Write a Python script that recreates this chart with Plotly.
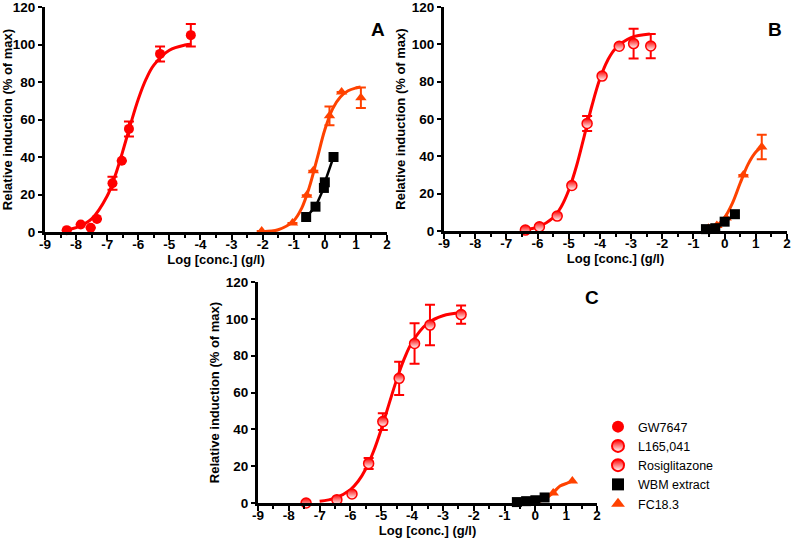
import plotly.graph_objects as go

# ---------------- data ----------------
# Panel A
gw_x = [-8.30, -7.85, -7.53, -7.33, -6.83, -6.53, -6.30, -5.30, -4.31]
gw_y = [1.0, 4.0, 2.3, 7.0, 26.0, 38.0, 55.0, 95.0, 105.0]
gw_err = [0, 0, 0, 0, 3.5, 0, 4, 4, 6]
gw_fit_x = [-8.3, -8.0, -7.5, -7.0, -6.75, -6.5, -6.25, -6.0, -5.75, -5.5, -5.0, -4.5, -4.3]
gw_fit_y = [1.2, 2.3, 7.0, 19.2, 29.7, 43.0, 57.4, 70.8, 81.5, 89.0, 96.9, 99.7, 100.1]

fcA_x = [-2.03, -1.04, -0.58, -0.37, 0.15, 0.54, 1.16]
fcA_y = [0.5, 4.8, 19.6, 32.7, 62.0, 74.7, 71.6]
fcA_err = [0, 0, 0, 0, 5, 0, 5.5]
fcA_fit_x = [-2.0, -1.5, -1.0, -0.75, -0.5, -0.25, 0.0, 0.25, 0.5, 0.75, 1.0, 1.15]
fcA_fit_y = [0.2, 1.2, 6.0, 12.5, 23.8, 39.0, 54.5, 65.7, 72.0, 75.3, 76.8, 77.3]

wbmA_x = [-0.60, -0.30, -0.03, 0.00, 0.28]
wbmA_y = [8.0, 13.5, 23.5, 26.5, 40.0]

# Panel B
l165_x = [-6.39, -5.94, -5.37, -4.90, -4.41, -3.93, -3.38, -2.92, -2.37]
l165_y = [0.5, 2.3, 8.0, 24.4, 57.6, 83.0, 99.0, 100.4, 99.1]
l165_err = [0, 0, 0, 0, 4, 0, 0, 8, 6.5]
l165_fit_x = [-6.4, -6.0, -5.5, -5.25, -5.0, -4.75, -4.5, -4.25, -4.0, -3.75, -3.5, -3.0, -2.4]
l165_fit_y = [0.8, 2.1, 7.1, 12.7, 21.8, 34.8, 51.0, 67.5, 81.5, 91.5, 97.8, 103.6, 105.5]

fcB_x = [-0.52, -0.25, 0.05, 0.60, 1.19]
fcB_y = [1.5, 3.0, 7.0, 30.0, 45.0]
fcB_err = [0, 0, 0, 0, 6.5]
fcB_fit_x = [-0.6, -0.25, 0.0, 0.25, 0.5, 0.75, 1.0, 1.19]
fcB_fit_y = [0.9, 3.1, 7.2, 14.9, 25.7, 35.7, 42.3, 45.0]

wbmB_x = [-0.60, -0.30, 0.00, 0.33]
wbmB_y = [1.0, 1.5, 5.0, 9.0]

# Panel C
rosi_x = [-7.44, -6.44, -5.95, -5.41, -4.95, -4.42, -3.92, -3.42, -2.41]
rosi_y = [0.0, 1.8, 4.9, 21.5, 44.2, 67.7, 86.6, 96.6, 102.3]
rosi_err = [0, 0, 0, 3, 4.5, 9, 11, 11, 5]
rosi_fit_x = [-7.0, -6.5, -6.0, -5.75, -5.5, -5.25, -5.0, -4.75, -4.5, -4.25, -4.0, -3.5, -3.0, -2.4]
rosi_fit_y = [0.9, 2.65, 7.3, 11.8, 18.6, 28.1, 40.1, 53.7, 67.0, 78.5, 87.3, 97.5, 101.7, 103.3]

fcC_x = [-0.50, -0.30, 0.58, 1.20]
fcC_y = [0.0, 0.0, 5.4, 12.0]
fcC_fit_x = [-0.6, 0.0, 0.3, 0.56, 0.8, 1.07, 1.2]
fcC_fit_y = [0.0, 0.5, 2.0, 5.3, 9.2, 11.0, 12.0]

wbmC_x = [-0.60, -0.30, 0.00, 0.30]
wbmC_y = [0.5, 1.0, 1.5, 3.0]

x_ticks = [-9, -8, -7, -6, -5, -4, -3, -2, -1, 0, 1, 2]
y_ticks = [0, 20, 40, 60, 80, 100, 120]

legend_names = ["GW7647", "L165,041", "Rosiglitazone", "WBM extract", "FC18.3"]

# ---------------- styles ----------------
RED = "#ff0000"
ORANGE = "#ff4200"
BLACK = "#000000"
FONT = "Liberation Sans, Arial, sans-serif"

fig = go.Figure()


def add_curve(x, y, color, xa, ya, width=3):
    fig.add_trace(go.Scatter(x=x, y=y, mode="lines", line=dict(color=color, width=width, shape="spline", smoothing=1.0),
                             xaxis=xa, yaxis=ya, showlegend=False, hoverinfo="skip", cliponaxis=False))


def add_points(x, y, err, marker, color, xa, ya):
    kw = {}
    if err is not None:
        kw["error_y"] = dict(type="data", array=err, visible=True, color=color, thickness=2, width=5)
    fig.add_trace(go.Scatter(x=x, y=y, mode="markers", marker=marker, xaxis=xa, yaxis=ya,
                             showlegend=False, cliponaxis=False, **kw))


mk_gw = dict(symbol="circle", size=10, color=RED, line=dict(width=0))
mk_l165 = dict(symbol="circle", size=10, color=RED, line=dict(color=RED, width=1.5),
               gradient=dict(type="vertical", color="white"))
mk_rosi = dict(symbol="circle", size=10, color=RED, line=dict(color=RED, width=1.5),
               gradient=dict(type="vertical", color="white"))
mk_wbm = dict(symbol="square", size=10, color=BLACK, line=dict(width=0))
mk_fc = dict(symbol="triangle-up", size=10, color=ORANGE, line=dict(width=0))

# Panel A
add_curve(gw_fit_x, gw_fit_y, RED, "x", "y")
add_points(gw_x, gw_y, gw_err, mk_gw, RED, "x", "y")
add_curve(fcA_fit_x, fcA_fit_y, ORANGE, "x", "y")
add_points(fcA_x, fcA_y, fcA_err, mk_fc, ORANGE, "x", "y")
fig.add_trace(go.Scatter(x=wbmA_x, y=wbmA_y, mode="lines+markers", line=dict(color=BLACK, width=2.5),
                         marker=mk_wbm, xaxis="x", yaxis="y", showlegend=False, cliponaxis=False))

# Panel B
add_curve(l165_fit_x, l165_fit_y, RED, "x2", "y2")
add_points(l165_x, l165_y, l165_err, mk_l165, RED, "x2", "y2")
add_curve(fcB_fit_x, fcB_fit_y, ORANGE, "x2", "y2")
add_points(fcB_x, fcB_y, fcB_err, mk_fc, ORANGE, "x2", "y2")
fig.add_trace(go.Scatter(x=wbmB_x, y=wbmB_y, mode="lines+markers", line=dict(color=BLACK, width=2.5),
                         marker=mk_wbm, xaxis="x2", yaxis="y2", showlegend=False, cliponaxis=False))

# Panel C
add_curve(rosi_fit_x, rosi_fit_y, RED, "x3", "y3")
add_points(rosi_x, rosi_y, rosi_err, mk_rosi, RED, "x3", "y3")
add_curve(fcC_fit_x, fcC_fit_y, ORANGE, "x3", "y3")
add_points(fcC_x, fcC_y, None, mk_fc, ORANGE, "x3", "y3")
fig.add_trace(go.Scatter(x=wbmC_x, y=wbmC_y, mode="lines+markers", line=dict(color=BLACK, width=2.5),
                         marker=mk_wbm, xaxis="x3", yaxis="y3", showlegend=False, cliponaxis=False))

# Legend entries
for name, mk in zip(legend_names, [mk_gw, mk_l165, mk_rosi, mk_wbm, mk_fc]):
    fig.add_trace(go.Scatter(x=[None], y=[None], mode="markers", marker=mk, name=name,
                             xaxis="x3", yaxis="y3", showlegend=True))

W, H = 793, 546


def xdom(l, r):
    return [l / W, r / W]


def ydom(top, bottom):
    return [1 - bottom / H, 1 - top / H]


tickfont = dict(family=FONT, size=13.5, color="black", weight="bold")
titlefont = dict(family=FONT, size=13, color="black", weight="bold")


def xaxis(domain, anchor):
    return dict(domain=domain, anchor=anchor, range=[-9, 2], tickmode="array", tickvals=x_ticks,
                ticktext=[str(v) for v in x_ticks], ticks="outside", ticklen=5, tickwidth=2, tickcolor="black",
                showline=True, linewidth=3, linecolor="black", showgrid=False, zeroline=False,
                tickfont=tickfont, ticklabelstandoff=-7, ticklabeloverflow="allow",
                title=dict(text="Log [conc.] (g/l)", font=titlefont, standoff=3),
                minor=dict(dtick=0.5, tick0=0, ticks="outside", ticklen=3, tickwidth=1.5, tickcolor="black"),
                automargin=False)


def yaxis(domain, anchor):
    return dict(domain=domain, anchor=anchor, range=[0, 120], tickmode="array", tickvals=y_ticks,
                ticktext=[str(v) for v in y_ticks], ticks="outside", ticklen=4, tickwidth=2, tickcolor="black",
                showline=True, linewidth=3, linecolor="black", showgrid=False, zeroline=False,
                tickfont=tickfont, ticklabeloverflow="allow",
                title=dict(text="Relative induction (% of max)", font=titlefont, standoff=4),
                automargin=False)


fig.update_layout(
    width=W, height=H,
    margin=dict(l=0, r=0, t=0, b=0),
    paper_bgcolor="white", plot_bgcolor="white",
    font=dict(family=FONT, color="black"),
    xaxis=xaxis(xdom(45, 387), "y"),
    yaxis=yaxis(ydom(7, 232), "x"),
    xaxis2=xaxis(xdom(444, 787), "y2"),
    yaxis2=yaxis(ydom(7, 231), "x2"),
    xaxis3=xaxis(xdom(258, 597), "y3"),
    yaxis3=yaxis(ydom(282, 503), "x3"),
    legend=dict(x=598 / W, y=1 - 412 / H, xanchor="left", yanchor="top", bgcolor="rgba(0,0,0,0)",
                font=dict(family=FONT, size=12.5, color="black"), tracegroupgap=0, itemsizing="constant"),
    annotations=[
        dict(text="A", x=378 / W, y=1 - 29 / H, xref="paper", yref="paper", showarrow=False,
             xanchor="center", yanchor="middle",
             font=dict(family=FONT, size=19, color="black", weight="bold")),
        dict(text="B", x=775 / W, y=1 - 29 / H, xref="paper", yref="paper", showarrow=False,
             xanchor="center", yanchor="middle",
             font=dict(family=FONT, size=19, color="black", weight="bold")),
        dict(text="C", x=592 / W, y=1 - 297 / H, xref="paper", yref="paper", showarrow=False,
             xanchor="center", yanchor="middle",
             font=dict(family=FONT, size=19, color="black", weight="bold")),
    ],
)

fig.write_html("out.html")
